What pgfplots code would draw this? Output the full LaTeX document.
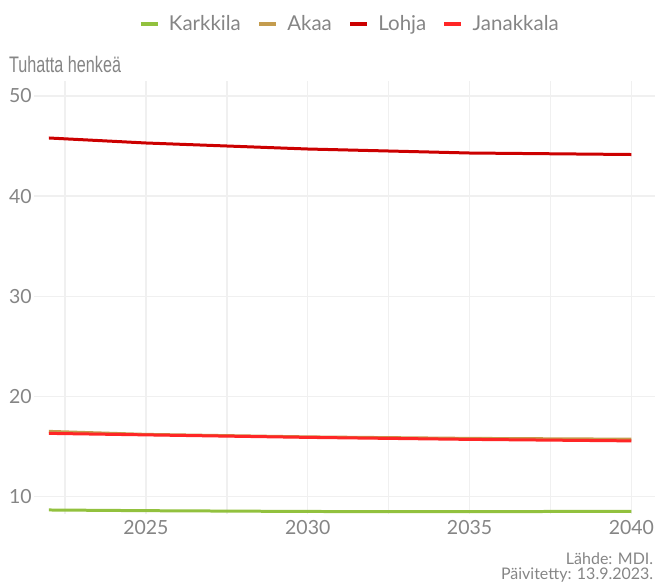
\documentclass[border=0pt]{standalone}
\usepackage{fontspec}
\setmainfont{Lato}
\newfontfamily\ylabfont{Liberation Sans}[FakeStretch=0.72]
\usepackage{pgfplots}
\pgfplotsset{compat=1.18}
\definecolor{karkkila}{HTML}{92C13E}
\definecolor{akaa}{HTML}{C49C4E}
\definecolor{lohja}{HTML}{CC0000}
\definecolor{janakkala}{HTML}{FF2626}
\definecolor{txt}{HTML}{858585}
\definecolor{gridc}{HTML}{F0F0F0}
\begin{document}
\begin{tikzpicture}[x=1pt,y=1pt]
\path (0,0) rectangle (656,583);
\begin{axis}[
  at={(34pt,68pt)}, anchor=south west,
  scale only axis, width=622pt, height=434pt,
  xmin=2021.54, xmax=2040.74, ymin=8.2, ymax=51.5,
  axis line style={draw=none},
  major tick length=0pt, minor tick length=0pt,
  xtick={2025,2030,2035,2040},
  minor xtick={2022.5,2027.5,2032.5,2037.5},
  ytick={10,20,30,40,50},
  xmajorgrids, xminorgrids, ymajorgrids,
  grid style={gridc, line width=1.3pt},
  minor grid style={gridc, line width=1.3pt},
  /pgf/number format/assume math mode=true,
  xticklabel style={/pgf/number format/1000 sep={}, font=\fontsize{19.5}{19.5}\selectfont, text=txt, inner sep=0pt, yshift=-6pt},
  yticklabel style={font=\fontsize{19.5}{19.5}\selectfont, text=txt, inner sep=0pt, xshift=-2pt},
  legend columns=4,
  legend style={at={(axis description cs:0.508,1.131)}, anchor=center, draw=none, fill=none,
    font=\fontsize{20.5}{20.5}\selectfont, text=txt,
    /tikz/every odd column/.append style={column sep=7pt},
    /tikz/every even column/.append style={column sep=14pt}},
  legend image code/.code={\draw[line width=4.5pt] (0pt,0pt) -- (17pt,0pt);},
  line join=round,
]
\addplot[karkkila, line width=3pt] coordinates {(2022,8.65) (2025,8.58) (2030,8.5) (2035,8.48) (2040,8.52)};
\addlegendentry{Karkkila}
\addplot[akaa, line width=3pt] coordinates {(2022,16.5) (2025,16.2) (2030,15.95) (2035,15.8) (2040,15.72)};
\addlegendentry{Akaa}
\addplot[lohja, line width=3pt] coordinates {(2022,45.8) (2025,45.3) (2030,44.7) (2035,44.3) (2040,44.15)};
\addlegendentry{Lohja}
\addplot[janakkala, line width=3pt] coordinates {(2022,16.3) (2025,16.15) (2030,15.9) (2035,15.7) (2040,15.55)};
\addlegendentry{Janakkala}
\end{axis}
\node[anchor=base west, inner sep=0pt, text=txt, font=\ylabfont\fontsize{22.5}{22.5}\selectfont] at (9,510) {Tuhatta henkeä};
\node[anchor=base east, inner sep=0pt, text=txt, font=\fontsize{16}{16}\selectfont] at (654,18) {Lähde: MDI.};
\node[anchor=base east, inner sep=0pt, text=txt, font=\fontsize{16}{16}\selectfont] at (654,3) {Päivitetty: 13.9.2023.};
\end{tikzpicture}
\end{document}
